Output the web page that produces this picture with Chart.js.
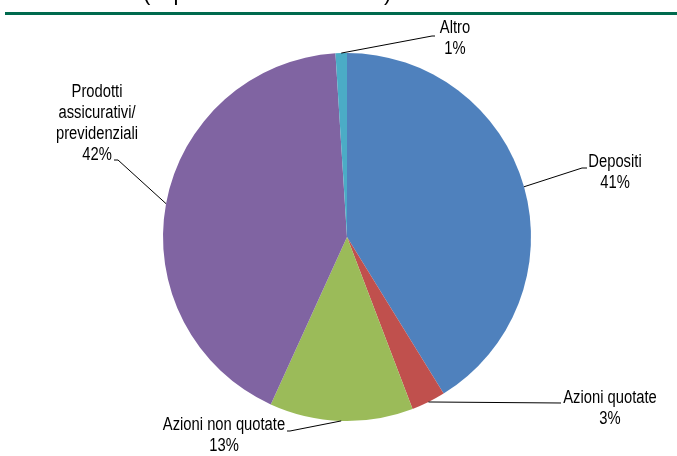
<!DOCTYPE html>
<html>
<head>
<meta charset="utf-8">
<script src="https://cdn.jsdelivr.net/npm/chart.js@4/dist/chart.umd.min.js"></script>
<style>
  html, body { margin: 0; padding: 0; background: #fff; }
  #wrap { width: 677px; height: 456px; position: relative; }
</style>
</head>
<body>
<div id="wrap"><canvas id="chart" width="677" height="456"></canvas></div>
<script>
(() => {
  // data
  const categories = ["Depositi", "Azioni quotate", "Azioni non quotate", "Prodotti assicurativi/ previdenziali", "Altro"];
  const labelLines = [["Depositi"], ["Azioni quotate"], ["Azioni non quotate"], ["Prodotti", "assicurativi/", "previdenziali"], ["Altro"]];
  const shares = [41.2, 3.0, 12.6, 42.2, 1.0];
  const colors = ["#4F81BD", "#C0504D", "#9BBB59", "#8064A2", "#4BACC6"];
  const subtitle = "(in percentuale del totale)";

  // label placement (text centre x, first line centre y, leader elbow, leader end)
  const labelLayout = [
    { x: 615, y: 162, elbow: [582, 168], end: [587, 168] },
    { x: 610, y: 398, elbow: [561, 403], end: [561, 403] },
    { x: 224, y: 425, elbow: [290, 431], end: [287, 431] },
    { x: 97, y: 92, elbow: [118, 160], end: [114, 160] },
    { x: 455, y: 28, elbow: [432, 36], end: [435, 36] },
  ];

  // no narrow font installed: squeeze a regular sans horizontally
  const FONT = '18px "Liberation Sans", Arial, sans-serif';
  const SQUEEZE = 0.82;
  const LINE_H = 21;

  const narrowText = (ctx, t, x, y) => {
    ctx.save();
    ctx.translate(x, y);
    ctx.scale(SQUEEZE, 1);
    ctx.fillText(t, 0, 0);
    ctx.restore();
  };

  const labelPlugin = {
    id: "labels",
    afterDraw(chart) {
      const ctx = chart.ctx;
      const total = shares.reduce((a, b) => a + b, 0);
      ctx.save();

      // header remains: subtitle cut by the top edge and green rule
      ctx.fillStyle = "#000";
      ctx.font = '22px "Liberation Sans", Arial, sans-serif';
      ctx.textAlign = "left";
      ctx.textBaseline = "alphabetic";
      ctx.fillText(subtitle, 143, 0);
      ctx.fillStyle = "#006A4E";
      ctx.fillRect(5, 12, 672, 3);

      const meta = chart.getDatasetMeta(0);
      meta.data.forEach((arc, i) => {
        const p = arc.getProps(["x", "y", "startAngle", "endAngle", "outerRadius"], true);
        const mid = (p.startAngle + p.endAngle) / 2;
        const sx = p.x + Math.cos(mid) * p.outerRadius;
        const sy = p.y + Math.sin(mid) * p.outerRadius;
        const lay = labelLayout[i];

        ctx.strokeStyle = "#000";
        ctx.lineWidth = 1;
        ctx.beginPath();
        ctx.moveTo(sx, sy);
        ctx.lineTo(lay.elbow[0], lay.elbow[1]);
        ctx.lineTo(lay.end[0], lay.end[1]);
        ctx.stroke();

        const lines = labelLines[i].concat([Math.round((shares[i] / total) * 100) + "%"]);
        ctx.fillStyle = "#000";
        ctx.font = FONT;
        ctx.textAlign = "center";
        ctx.textBaseline = "middle";
        lines.forEach((t, k) => narrowText(ctx, t, lay.x, lay.y + k * LINE_H));
      });
      ctx.restore();
    },
  };

  new Chart(document.getElementById("chart"), {
    type: "pie",
    data: {
      labels: categories,
      datasets: [{
        data: shares,
        backgroundColor: colors,
        borderWidth: 0,
      }],
    },
    options: {
      responsive: false,
      animation: false,
      layout: { padding: { left: 163, right: 146, top: 53, bottom: 35 } },
      plugins: {
        legend: { display: false },
        tooltip: { enabled: false },
      },
    },
    plugins: [labelPlugin],
  });
})();
</script>
</body>
</html>
